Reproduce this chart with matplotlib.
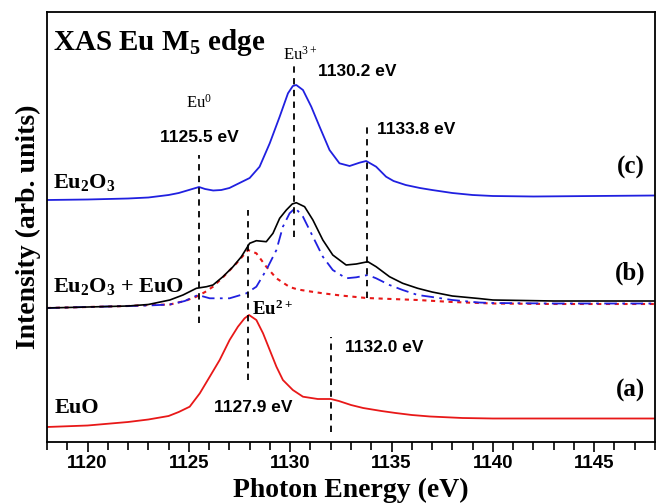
import matplotlib
matplotlib.use('Agg')
import matplotlib.pyplot as plt
from matplotlib import font_manager

# (a) EuO
energy_euo = [1118, 1120, 1122, 1123, 1124, 1124.5, 1125.04, 1125.54, 1126.03, 1126.52,
              1127.01, 1127.42, 1127.75, 1127.97, 1128.33, 1128.66, 1128.99, 1129.32, 1129.64, 1130.13,
              1130.63, 1131.36, 1132, 1132.4, 1133, 1133.6, 1134.5, 1135.2, 1136, 1136.9,
              1138.5, 1140, 1148]
int_euo = [15, 16.5, 20, 22.5, 26, 30, 35.3, 48.7, 65.3, 82,
           102, 115.3, 123.7, 127, 122, 108.7, 92, 75.3, 62, 52,
           45.3, 43, 43, 41, 37, 34, 31, 29, 27, 25.5,
           24, 23.5, 23.5]

# (c) Eu2O3
energy_eu2o3 = [1118, 1120, 1122, 1123, 1124, 1124.5, 1125.0, 1125.5, 1125.8, 1126.2,
                1126.6, 1127.0, 1127.5, 1128.0, 1128.49, 1128.99, 1129.48, 1129.89, 1130.13, 1130.3,
                1130.63, 1131.04, 1131.45, 1131.94, 1132.43, 1132.93, 1133.42, 1133.75, 1134.24, 1134.73,
                1135.1, 1135.7, 1136.4, 1137, 1138, 1139, 1140, 1142, 1145, 1148]
int_eu2o3 = [242, 242.5, 243.5, 244.5, 247, 249, 252, 255, 253, 251.5,
             252, 254, 259, 264, 275.3, 298.7, 325.3, 348.7, 356, 357,
             352, 335.3, 315.3, 292, 278.7, 276, 279.3, 281, 275.3, 265.3,
             261, 257, 254, 252, 249, 247, 246, 245.5, 246, 246.5]

# (b) Eu2O3 + EuO
energy_mix = [1118, 1120, 1122, 1123, 1124.06, 1124.71, 1125.37, 1125.87, 1126.19, 1126.68,
              1127.18, 1127.59, 1128.0, 1128.33, 1128.82, 1129.15, 1129.48, 1129.81, 1130.1, 1130.3,
              1130.71, 1131.12, 1131.61, 1132.1, 1132.76, 1133.26, 1133.83, 1134.24, 1134.9, 1135.55,
              1136.29, 1137, 1138, 1139.3, 1140, 1143, 1148]
int_mix = [134, 135, 136, 137.5, 142, 147, 153.7, 155.3, 157, 165.3,
           175.3, 185.3, 198.7, 201.3, 200.3, 208.7, 223.7, 232, 238, 239.3,
           235.3, 222, 202, 187, 177, 178, 180.3, 175.3, 165.3, 158.7,
           153.7, 150, 146, 143.5, 142, 141, 141]

# Eu3+ component (dash-dot)
energy_comp3 = [1118, 1120, 1122, 1123, 1124.06, 1124.8, 1125.45, 1126.03, 1127.01, 1127.84,
                1128.33, 1128.82, 1129.32, 1129.64, 1129.97, 1130.25, 1130.63, 1131.12, 1131.61, 1132.1,
                1132.76, 1133.26, 1133.83, 1134.24, 1134.9, 1135.55, 1136.29, 1137, 1138, 1139.3,
                1140, 1143, 1148]
int_comp3 = [134, 135, 136, 136.5, 137.5, 141, 147, 143.7, 143.7, 148.7,
             155.3, 172, 192, 215.3, 228.7, 234, 225.3, 205.3, 185.3, 172,
             163.7, 164.7, 167, 163.7, 157, 152, 147, 145, 142, 139.5,
             139, 138.5, 138.5]

# Eu2+ component (dotted)
energy_comp2 = [1118, 1120, 1122, 1123, 1124.06, 1124.8, 1125.37, 1125.8, 1126.19, 1126.68,
                1127.35, 1127.92, 1128.33, 1128.82, 1129.32, 1129.97, 1130.38, 1131.0, 1131.61, 1132.5,
                1133.75, 1135, 1136.29, 1138, 1140, 1143, 1148]
int_comp2 = [134, 135, 136, 137, 137.5, 141, 145.3, 150, 155.3, 164.7,
             178.7, 192, 188.7, 175.3, 163.7, 155, 152.5, 150.5, 148.7, 146.5,
             144, 143, 142, 140, 138.5, 138, 138]

# peak markers: energy, line bottom, line top
peak_energy = [1125.5, 1127.9, 1130.2, 1133.8, 1132.0]
peak_ymin = [119, 62, 205, 144, 10]
peak_ymax = [287, 232, 377, 315, 105]

BLUE = '#2020e0'
RED = '#e81818'
SERIF = 'Liberation Serif'

names = {f.name for f in font_manager.fontManager.ttflist}
if 'Liberation Sans Narrow' in names:
    SANS, TICK_SIZE = 'Liberation Sans Narrow', 16.5
else:
    SANS, TICK_SIZE = 'Liberation Sans', 13.5

plt.rcParams['mathtext.default'] = 'regular'

fig = plt.figure(figsize=(6.56, 5.04), dpi=100)
ax = fig.add_axes([47 / 656, 62 / 504, 608 / 656, 430 / 504])

ax.plot(energy_euo, int_euo, color=RED, lw=1.3)
ax.plot(energy_eu2o3, int_eu2o3, color=BLUE, lw=1.3)
ax.plot(energy_comp2, int_comp2, color=RED, lw=1.5, ls=(0, (2, 2.2)))
ax.plot(energy_comp3, int_comp3, color=BLUE, lw=1.3, ls=(0, (7, 3, 1.5, 3)))
ax.plot(energy_mix, int_mix, color='black', lw=1.2)

for e, y0, y1 in zip(peak_energy, peak_ymin, peak_ymax):
    ax.plot([e, e], [y0, y1], color='black', lw=1.3, ls=(0, (3.5, 3)))

ax.set_xlim(1118, 1148)
ax.set_ylim(0, 430)
ax.set_xticks([1120, 1125, 1130, 1135, 1140, 1145])
ax.set_xticks(range(1118, 1149), minor=True)
ax.set_yticks([])
ax.tick_params(axis='x', which='major', direction='out', length=7, width=1.2, pad=2)
ax.tick_params(axis='x', which='minor', direction='out', length=6, width=1.2)
for lab in ax.get_xticklabels():
    lab.set_fontfamily(SANS)
    lab.set_fontweight('bold')
    lab.set_fontsize(TICK_SIZE)
for s in ax.spines.values():
    s.set_linewidth(1.3)

ax.set_xlabel('Photon Energy (eV)', fontfamily=SERIF, fontweight='bold', fontsize=20, labelpad=4.5)
ax.set_ylabel('Intensity (arb. units)', fontfamily=SERIF, fontweight='bold', fontsize=20, labelpad=4)

bold_serif = dict(fontfamily=SERIF, fontweight='bold')
bold_sans = dict(fontfamily='Liberation Sans', fontweight='bold', fontsize=12.5)

ax.text(1118.3, 400, 'XAS Eu M$_5$ edge', fontsize=21, va='center', **bold_serif)
ax.text(1118.3, 254, 'Eu$_2$O$_3$', fontsize=16, va='baseline', **bold_serif)
ax.text(1118.3, 150, 'Eu$_2$O$_3$ + EuO', fontsize=16, va='baseline', **bold_serif)
ax.text(1118.4, 29, 'EuO', fontsize=16, va='baseline', **bold_serif)
ax.text(1146.8, 275, '(c)', fontsize=18, ha='center', va='center', **bold_serif)
ax.text(1146.8, 169, '(b)', fontsize=18, ha='center', va='center', **bold_serif)
ax.text(1146.8, 52, '(a)', fontsize=18, ha='center', va='center', **bold_serif)

ax.text(1125.5, 339, 'Eu$^0$', fontfamily=SERIF, fontsize=12, ha='center', va='center')
ax.text(1130.5, 387, 'Eu$^{3+}$', fontfamily=SERIF, fontsize=12, ha='center', va='center')
ax.text(1128.1, 133, 'Eu$^{2+}$', fontsize=13.5, ha='left', va='center', **bold_serif)

ax.text(1125.5, 305, '1125.5 eV', ha='center', va='center', **bold_sans)
ax.text(1131.35, 370, '1130.2 eV', ha='left', va='center', **bold_sans)
ax.text(1134.3, 312, '1133.8 eV', ha='left', va='center', **bold_sans)
ax.text(1128.2, 34, '1127.9 eV', ha='center', va='center', **bold_sans)
ax.text(1132.7, 95, '1132.0 eV', ha='left', va='center', **bold_sans)

fig.savefig('out.png', dpi=100)
